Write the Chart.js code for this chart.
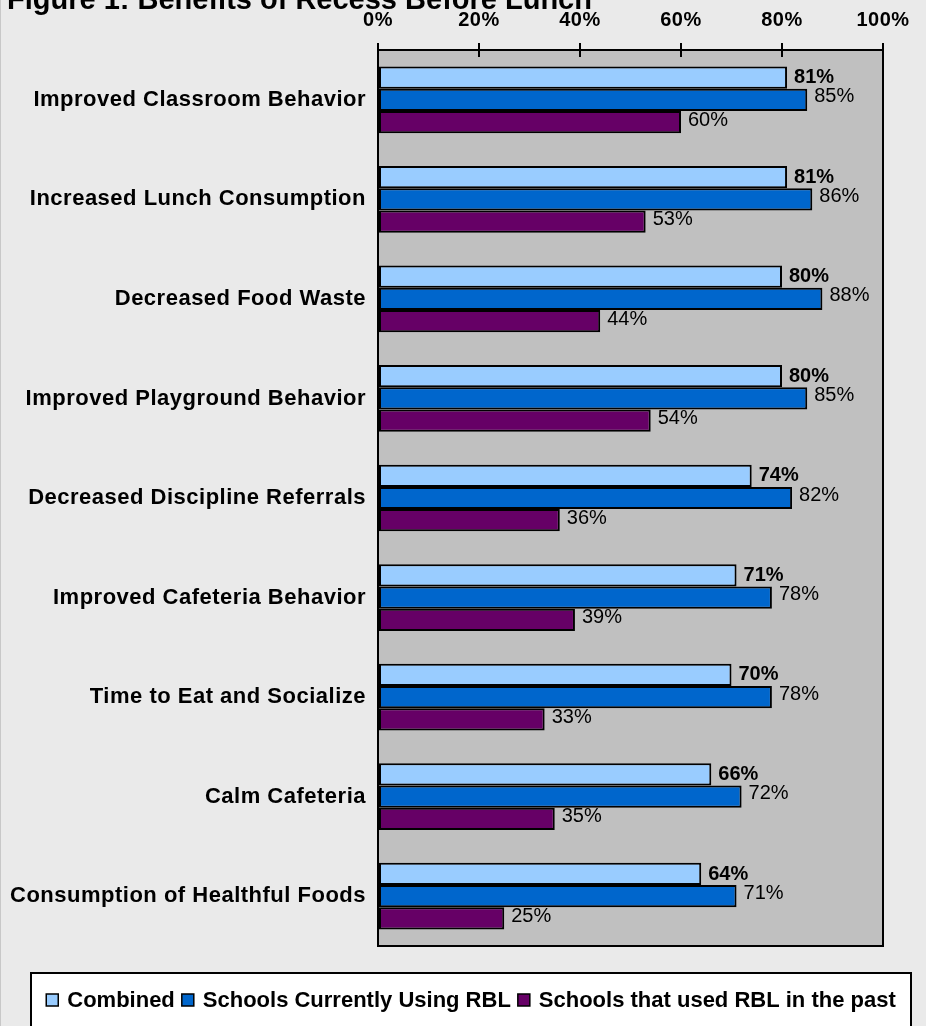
<!DOCTYPE html>
<html>
<head>
<meta charset="utf-8">
<title>Figure 1: Benefits of Recess Before Lunch</title>
<script src="https://cdn.jsdelivr.net/npm/chart.js@4.4.1/dist/chart.umd.min.js"></script>
<style>
  html, body { margin: 0; padding: 0; background: #eaeaea; overflow: hidden; }
  canvas { display: block; }
</style>
</head>
<body>
<canvas id="recessChart" width="926" height="1026"></canvas>
<script>
// data
const categories = [
  'Improved Classroom Behavior',
  'Increased Lunch Consumption',
  'Decreased Food Waste',
  'Improved Playground Behavior',
  'Decreased Discipline Referrals',
  'Improved Cafeteria Behavior',
  'Time to Eat and Socialize',
  'Calm Cafeteria',
  'Consumption of Healthful Foods'
];
const combined = [81, 81, 80, 80, 74, 71, 70, 66, 64];
const currentRBL = [85, 86, 88, 85, 82, 78, 78, 72, 71];
const pastRBL = [60, 53, 44, 54, 36, 39, 33, 35, 25];
const seriesNames = ['Combined', 'Schools Currently Using RBL', 'Schools that used RBL in the past'];
const xTicks = [0, 20, 40, 60, 80, 100];

const FONT = '"Liberation Sans", Arial, sans-serif';
const colors = ['#99ccff', '#0066cc', '#660066'];
const labelShift = [0, -3, -2]; // value labels sit a touch above bar centre

Chart.defaults.font.family = FONT;

// grey plot area, frame, inner half of the tick marks, title
const backdrop = {
    id: 'backdrop',
    beforeDraw(chart) {
        const { ctx, chartArea: a, width, height } = chart;
        ctx.save();
        ctx.fillStyle = '#eaeaea';
        ctx.fillRect(0, 0, width, height);
        ctx.fillStyle = '#c8c8c8';
        ctx.fillRect(0, 0, 1, height);
        ctx.fillStyle = '#c0c0c0';
        ctx.fillRect(a.left, a.top, a.right - a.left, a.bottom - a.top);
        ctx.restore();
        // Excel spreads the axis text out a little
        ctx.letterSpacing = '0.5px';
    },
    beforeDatasetsDraw(chart) {
        chart.ctx.letterSpacing = '0px';
    },
    afterDraw(chart) {
        const { ctx, chartArea: a } = chart;
        const xs = chart.scales.x;
        ctx.save();
        ctx.strokeStyle = '#000';
        ctx.lineWidth = 2;
        ctx.strokeRect(a.left, a.top, a.right - a.left, a.bottom - a.top);
        xTicks.forEach(v => {
            const px = Math.round(xs.getPixelForValue(v));
            ctx.beginPath();
            ctx.moveTo(px, a.top);
            ctx.lineTo(px, a.top + 7);
            ctx.stroke();
        });
        // title, cut off by the top edge like the original
        ctx.fillStyle = '#000';
        ctx.font = 'bold 29px ' + FONT;
        ctx.textBaseline = 'alphabetic';
        ctx.textAlign = 'left';
        ctx.fillText('Figure 1: Benefits of Recess Before Lunch', 7, 9);
        ctx.restore();
    }
};

// percentage at the end of each bar
const valueLabels = {
    id: 'valueLabels',
    afterDatasetsDraw(chart) {
        const ctx = chart.ctx;
        ctx.save();
        ctx.textBaseline = 'middle';
        ctx.textAlign = 'left';
        ctx.fillStyle = '#000';
        chart.data.datasets.forEach((ds, i) => {
            const meta = chart.getDatasetMeta(i);
            ctx.font = (i === 0 ? 'bold ' : '') + '20px ' + FONT;
            meta.data.forEach((bar, j) => {
                ctx.fillText(ds.data[j] + '%', bar.x + 7, bar.y + labelShift[i]);
            });
        });
        ctx.restore();
    }
};

// white boxed legend along the bottom
const boxedLegend = {
    id: 'boxedLegend',
    afterDraw(chart) {
        const ctx = chart.ctx;
        ctx.save();
        ctx.fillStyle = '#fff';
        ctx.fillRect(31, 973, 880, 70);
        ctx.strokeStyle = '#000';
        ctx.lineWidth = 2;
        ctx.strokeRect(31, 973, 880, 70);

        ctx.font = 'bold 22px ' + FONT;
        ctx.textBaseline = 'middle';
        ctx.textAlign = 'left';
        const items = chart.data.datasets.map(ds => ({
            text: ds.label,
            color: ds.backgroundColor,
            w: ctx.measureText(ds.label).width
        }));
        const total = items.reduce((s, it) => s + 21 + it.w, 0) + 7 * (items.length - 1);
        let x = 471 - total / 2;
        const cy = 1000;
        items.forEach(it => {
            ctx.fillStyle = it.color;
            ctx.fillRect(x, cy - 6, 12, 12);
            ctx.lineWidth = 1.5;
            ctx.strokeRect(x, cy - 6, 12, 12);
            ctx.fillStyle = '#000';
            ctx.fillText(it.text, x + 21, cy + 1);
            x += 21 + it.w + 7;
        });
        ctx.restore();
    }
};

const seriesData = [combined, currentRBL, pastRBL];

new Chart(document.getElementById('recessChart'), {
    type: 'bar',
    data: {
        labels: categories,
        datasets: seriesData.map((vals, i) => ({
            label: seriesNames[i],
            data: vals,
            backgroundColor: colors[i],
            borderColor: '#000',
            borderWidth: 2,
            borderSkipped: false,
            barPercentage: 1,
            categoryPercentage: 0.67
        }))
    },
    options: {
        responsive: false,
        animation: false,
        indexAxis: 'y',
        layout: { padding: { left: 0, top: 0, right: 43, bottom: 80 } },
        plugins: {
            legend: { display: false },
            tooltip: { enabled: false }
        },
        scales: {
            x: {
                position: 'top',
                min: 0,
                max: 100,
                afterBuildTicks: scale => { scale.ticks = xTicks.map(v => ({ value: v })); },
                afterFit: scale => { scale.height = 50; },
                ticks: {
                    callback: v => v + '%',
                    color: '#000',
                    font: { size: 20, weight: 'bold' },
                    padding: 11,
                    maxRotation: 0
                },
                grid: { drawOnChartArea: false, drawTicks: true, tickLength: 7, color: '#000', lineWidth: 2 },
                border: { display: true, color: '#000', width: 2 }
            },
            y: {
                afterFit: scale => { scale.width = 378; },
                ticks: {
                    color: '#000',
                    font: { size: 22, weight: 'bold' },
                    padding: 4
                },
                grid: { display: false },
                border: { display: true, color: '#000', width: 2 }
            }
        }
    },
    plugins: [backdrop, valueLabels, boxedLegend]
});
</script>
</body>
</html>
